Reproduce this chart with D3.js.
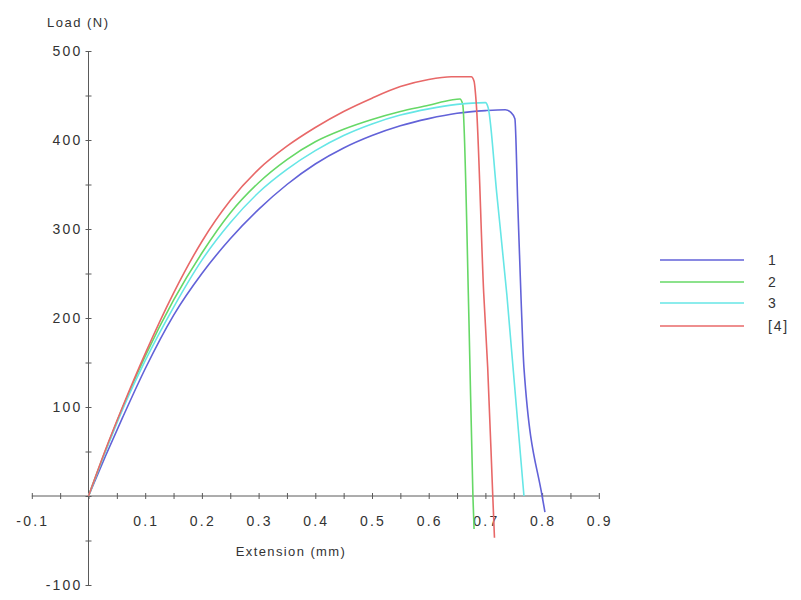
<!DOCTYPE html>
<html>
<head>
<meta charset="utf-8">
<script src="https://cdn.jsdelivr.net/npm/d3@7"></script>
<style>
  body { margin: 0; background: #fff; }
  text { font-family: Arial, "Liberation Sans", sans-serif; fill: #333; }
</style>
</head>
<body>
<div id="chart"></div>
<script>
// ---- data ----
const seriesNames = ["1", "2", "3", "[4]"];
const seriesColors = ["#6262d8", "#66d866", "#66e6e6", "#e86868"];

const ext1 = [0, 0.03, 0.06, 0.1, 0.15, 0.2, 0.25, 0.3, 0.35, 0.4, 0.45, 0.5, 0.55, 0.6, 0.65, 0.7, 0.735, 0.745, 0.752, 0.757, 0.763, 0.768, 0.8, 0.805];
const load1 = [0, 45, 88, 143, 203, 250, 289, 322, 350, 373, 391, 405, 416, 424, 430, 433, 434, 431, 424, 330, 220, 144, 0, -18];

const ext2 = [0, 0.03, 0.06, 0.1, 0.15, 0.2, 0.25, 0.3, 0.35, 0.4, 0.45, 0.5, 0.55, 0.6, 0.64, 0.655, 0.66, 0.671, 0.678, 0.68];
const load2 = [0, 51, 99, 157, 220, 273, 318, 352, 378, 398, 412, 423, 432, 439, 445, 446, 440, 197, 0, -37];

const ext3 = [0, 0.03, 0.06, 0.1, 0.15, 0.2, 0.25, 0.3, 0.35, 0.4, 0.45, 0.5, 0.55, 0.6, 0.65, 0.7, 0.705, 0.72, 0.738, 0.768];
const load3 = [0, 50, 97, 152, 212, 265, 307, 341, 367, 388, 405, 418, 428, 435, 440, 442, 436, 340, 225, 0];

const ext4 = [0, 0.03, 0.06, 0.1, 0.15, 0.2, 0.25, 0.3, 0.35, 0.4, 0.45, 0.5, 0.55, 0.6, 0.64, 0.675, 0.68, 0.684, 0.697, 0.704, 0.713, 0.716];
const load4 = [0, 52, 100, 160, 228, 286, 332, 367, 393, 414, 432, 447, 460, 468, 471, 471, 466, 440, 228, 145, 0, -47];

const xTickLabels = [-0.1, 0.1, 0.2, 0.3, 0.4, 0.5, 0.6, 0.7, 0.8, 0.9];
const yTickLabels = [-100, 100, 200, 300, 400, 500];

// ---- chart ----
const width = 801;
const height = 600;

const svg = d3
  .select("#chart")
  .append("svg")
  .attr("width", width)
  .attr("height", height);

const x = d3.scaleLinear().domain([-0.1, 0.9]).range([31.8, 598.8]);
const y = d3.scaleLinear().domain([-100, 500]).range([585, 51]);

const series = [
  { name: seriesNames[0], ext: ext1, load: load1 },
  { name: seriesNames[1], ext: ext2, load: load2 },
  { name: seriesNames[2], ext: ext3, load: load3 },
  { name: seriesNames[3], ext: ext4, load: load4 },
].map((s, i) => ({
  name: s.name,
  color: seriesColors[i],
  points: s.ext.map((e, j) => [e, s.load[j]]),
}));

const axisColor = "#5a5a5a";

// x axis through y=0
const xAxis = svg
  .append("g")
  .attr("transform", `translate(0,${y(0)})`)
  .call(
    d3.axisBottom(x)
      .tickValues(d3.range(-0.1, 0.901, 0.05))
      .tickSize(0)
      .tickFormat(() => "")
  );
xAxis.select(".domain").attr("stroke", axisColor).attr("d", `M${x(-0.1)},0H${x(0.9)}`);
xAxis.selectAll(".tick line").attr("stroke", axisColor).attr("y1", -3).attr("y2", 3);

svg
  .append("g")
  .selectAll("text")
  .data(xTickLabels)
  .enter()
  .append("text")
  .attr("x", (d) => x(d) + 1)
  .attr("y", y(0) + 30)
  .attr("text-anchor", "middle")
  .attr("font-size", 14)
  .attr("letter-spacing", 2.2)
  .text((d) => d.toFixed(1));

// y axis through x=0
const yAxis = svg
  .append("g")
  .attr("transform", `translate(${x(0)},0)`)
  .call(
    d3.axisLeft(y)
      .tickValues(d3.range(-100, 501, 50))
      .tickSize(0)
      .tickFormat(() => "")
  );
yAxis.select(".domain").attr("stroke", axisColor).attr("d", `M0,${y(-100)}V${y(500)}`);
yAxis.selectAll(".tick line").attr("stroke", axisColor).attr("x1", -3).attr("x2", 3);

svg
  .append("g")
  .selectAll("text")
  .data(yTickLabels)
  .enter()
  .append("text")
  .attr("x", x(0) - 6)
  .attr("y", (d) => y(d) + 5)
  .attr("text-anchor", "end")
  .attr("font-size", 14)
  .attr("letter-spacing", 2.2)
  .text((d) => d);

// axis titles
svg
  .append("text")
  .attr("x", 47)
  .attr("y", 27)
  .attr("font-size", 13)
  .attr("letter-spacing", 1.5)
  .text("Load (N)");

svg
  .append("text")
  .attr("x", 291)
  .attr("y", 556)
  .attr("text-anchor", "middle")
  .attr("font-size", 13)
  .attr("letter-spacing", 1.4)
  .text("Extension (mm)");

// curves
const line = d3
  .line()
  .x((d) => x(d[0]))
  .y((d) => y(d[1]))
  .curve(d3.curveMonotoneX);

svg
  .append("g")
  .selectAll("path")
  .data(series)
  .enter()
  .append("path")
  .attr("fill", "none")
  .attr("stroke", (d) => d.color)
  .attr("stroke-width", 1.6)
  .attr("d", (d) => line(d.points));

// legend
const legend = svg
  .append("g")
  .selectAll("g")
  .data(series)
  .enter()
  .append("g")
  .attr("transform", (d, i) => `translate(660,${[260, 282, 303, 326][i]})`);

legend
  .append("line")
  .attr("x1", 0)
  .attr("x2", 84)
  .attr("stroke", (d) => d.color)
  .attr("stroke-width", 1.6);

legend
  .append("text")
  .attr("x", 108)
  .attr("y", 5)
  .attr("font-size", 14)
  .attr("letter-spacing", 1.8)
  .text((d) => d.name);
</script>
</body>
</html>
